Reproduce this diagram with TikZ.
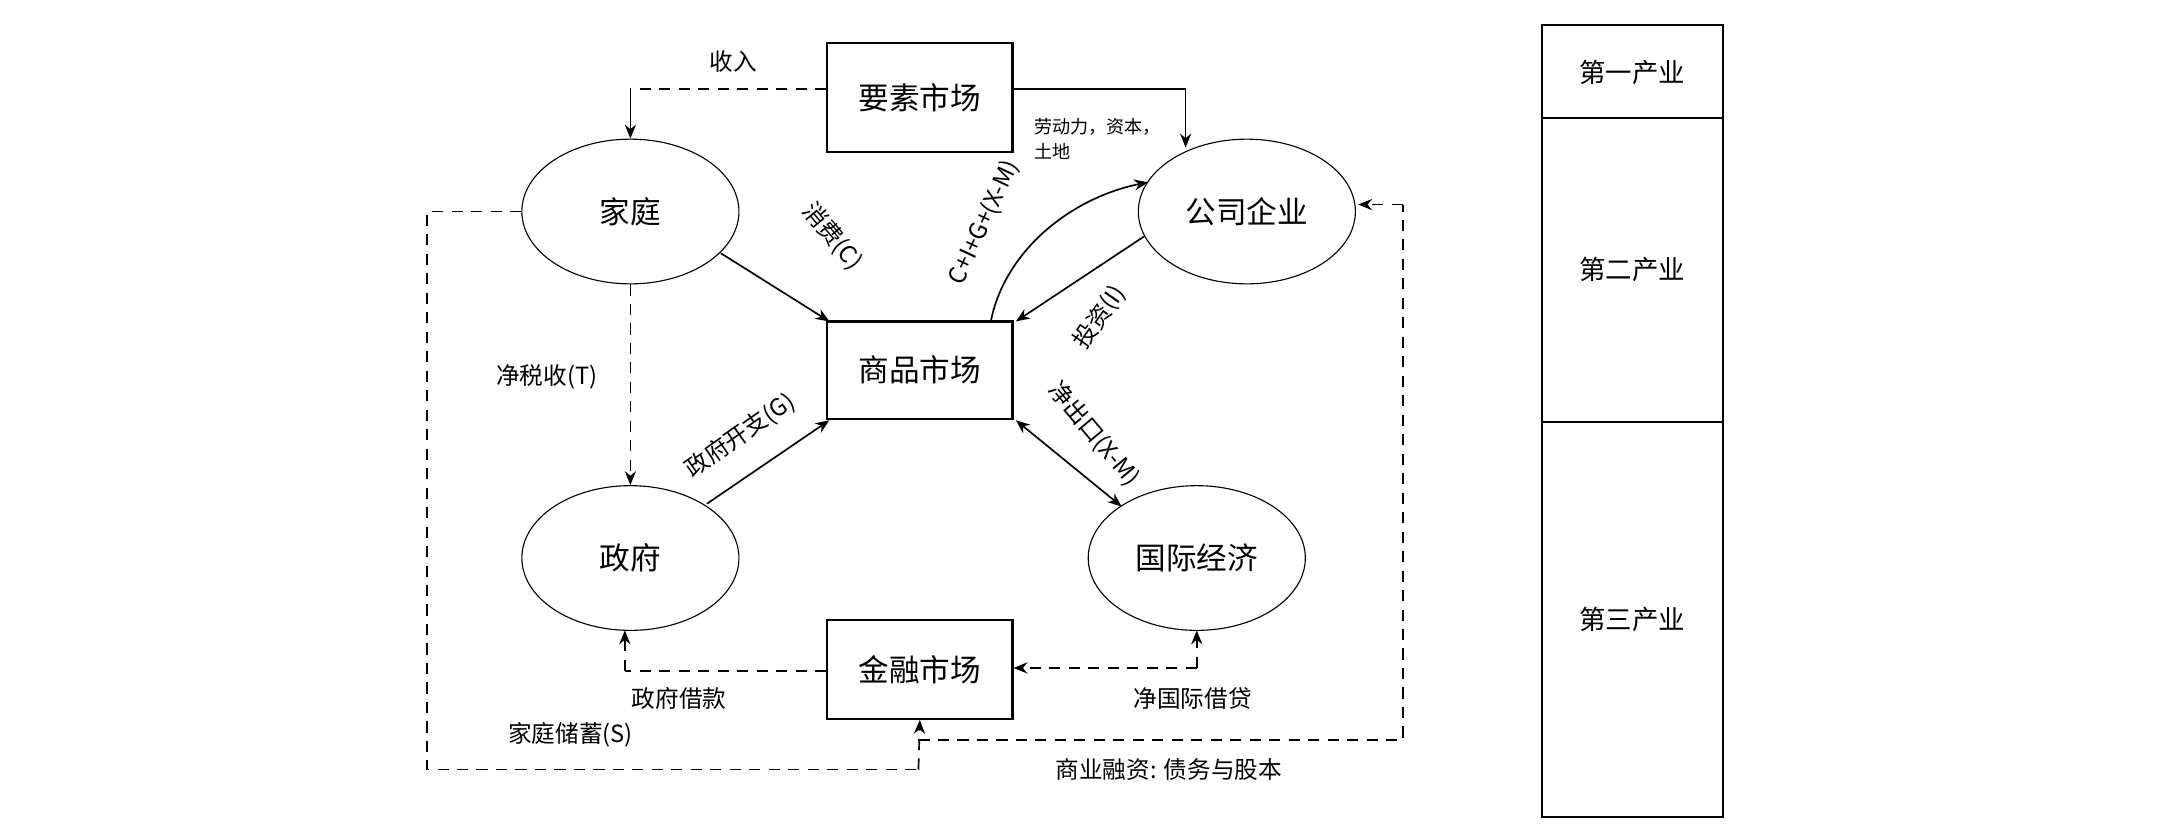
\documentclass[tikz,border=0pt]{standalone}
\usepackage{fontspec}
\setmainfont{Noto Sans CJK SC}
\usetikzlibrary{arrows.meta,shapes.geometric}
\begin{document}
\begin{tikzpicture}[x=0.5pt,y=-0.5pt,
  box/.style={draw,thick,minimum width=66.5pt,minimum height=39pt,font=\fontsize{11}{13}\selectfont},
  oval/.style={draw,ellipse,minimum width=78pt,minimum height=52pt,font=\fontsize{11}{13}\selectfont},
  lab/.style={font=\fontsize{8.5}{10}\selectfont},
  arr/.style={-{Stealth[length=5pt,width=4pt]},semithick},
  dsh/.style={dash pattern=on 4pt off 3pt,semithick}]
\useasboundingbox (0,0) rectangle (1568,592);
\node[box] (F) at (661,70) {要素市场};
\node[box,minimum height=35pt] (G) at (661,266) {商品市场};
\node[box,minimum height=35.5pt] (M) at (661,481) {金融市场};
\node[oval] (H) at (453,152) {家庭};
\node[oval] (C) at (896,152) {公司企业};
\node[oval] (Gov) at (453,401) {政府};
\node[oval] (W) at (860,401) {国际经济};
% right column
\draw[thick] (1108,18) rectangle (1238,587);
\draw[thick] (1108,85) -- (1238,85) (1108,303) -- (1238,303);
\node[lab,font=\fontsize{9.5}{11}\selectfont] (p1) at (1173,52) {第一产业};
\node[lab,font=\fontsize{9.5}{11}\selectfont] (p2) at (1173,194) {第二产业};
\node[lab,font=\fontsize{9.5}{11}\selectfont] (p3) at (1173,445) {第三产业};
% factor market
\draw[dsh] (F.west |- 0,64) -- (453,64);
\draw[arr] (453,64) -- (H.north);
\node[lab] (inc) at (527,44) {收入};
\draw[semithick] (F.east |- 0,64) -- (852,64);
\coordinate (cn) at (852,106);
\draw[arr] (852,64) -- (cn);
\node[lab,font=\fontsize{6.5}{9}\selectfont,align=left,anchor=north west] (lab1) at (736,78) {劳动力，资本，\\土地};
% goods market
\coordinate (h1) at (518,182);
\coordinate (g1) at (596,231);
\draw[arr] (h1) -- (g1);
\node[lab,rotate=-50] (cons) at (598,170) {消费(C)};
\coordinate (c1) at (822,170);
\coordinate (g2) at (730,231);
\draw[arr] (c1) -- (g2);
\node[lab,rotate=55] (inv) at (790,228) {投资(I)};
\coordinate (g3) at (712,231);
\coordinate (c2) at (825,131);
\draw[arr] (g3) .. controls (722,180) and (770,142) .. (c2);
\node[lab,rotate=65] (sum) at (707,160) {C+I+G+(X-M)};
\draw[dsh,-{Stealth[length=5pt,width=4pt]}] (H.south) -- (Gov.north);
\node[lab] (tax) at (393,271) {净税收(T)};
\coordinate (v1) at (508,362);
\coordinate (g4) at (596,302);
\draw[arr] (v1) -- (g4);
\node[lab,rotate=35] (gexp) at (532,313) {政府开支(G)};
\coordinate (g5) at (730,302);
\coordinate (w1) at (806,364);
\draw[semithick,{Stealth[length=5pt,width=4pt]}-{Stealth[length=5pt,width=4pt]}] (g5) -- (w1);
\node[lab,rotate=-50] (nx) at (786,312) {净出口(X-M)};
% financial market
\draw[dsh] (M.west |- 0,482) -- (449,482);
\coordinate (v2) at (449,453);
\draw[dsh,-{Stealth[length=5pt,width=4pt]}] (449,482) -- (v2);
\node[lab] (gb) at (488,502) {政府借款};
\coordinate (w2) at (860,453);
\draw[dsh,-{Stealth[length=5pt,width=4pt]}] (860,480) -- (w2);
\draw[dsh,-{Stealth[length=5pt,width=4pt]}] (860,480) -- (M.east |- 0,480);
\node[lab] (nib) at (857,502) {净国际借贷};
\draw[dsh] (H.west) -- (307,152) -- (307,553) -- (660,553);
\draw[dsh,-{Stealth[length=5pt,width=4pt]}] (660,553) -- (M.south);
\node[lab] (hs) at (410,528) {家庭储蓄(S)};
\coordinate (c3) at (976,147);
\draw[dsh] (660,532) -- (1008,532) -- (1008,147);
\draw[dsh,-{Stealth[length=5pt,width=4pt]}] (1008,147) -- (c3);
\node[lab] (bf) at (840,553) {商业融资: 债务与股本};
\end{tikzpicture}
\end{document}
